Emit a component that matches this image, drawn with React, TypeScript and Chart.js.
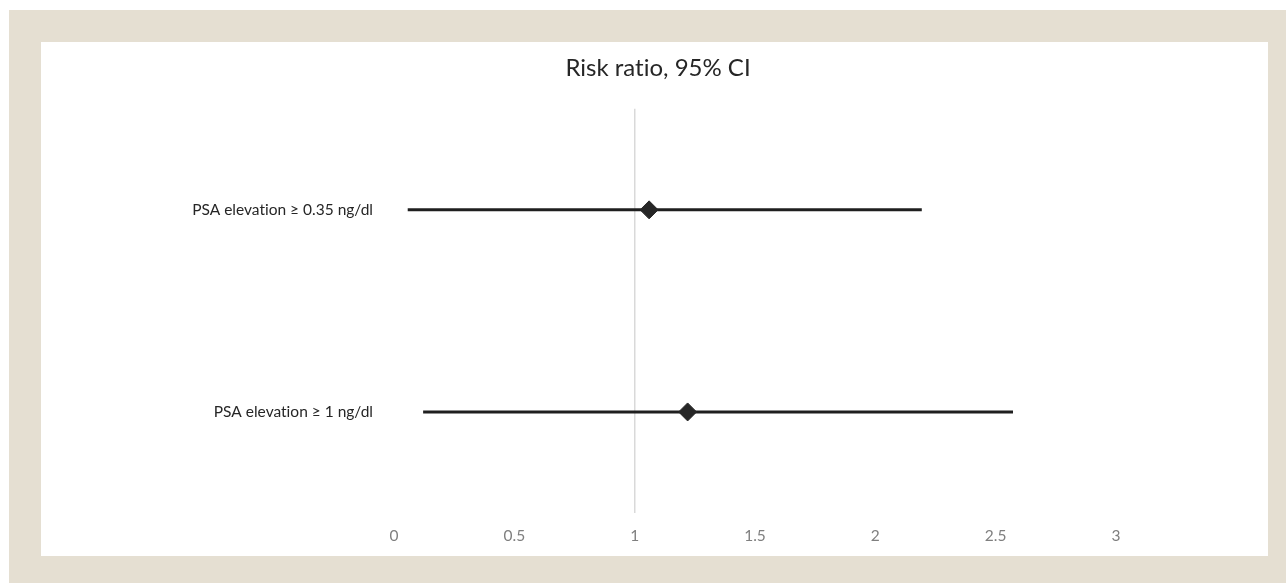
import React, { useEffect, useRef } from 'react';
import { Chart, registerables } from 'chart.js';

Chart.register(...registerables);

const categories = ['PSA elevation ≥ 0.35 ng/dl', 'PSA elevation ≥ 1 ng/dl'];
const riskRatio = [1.06, 1.22];
const ciLower = [0.057, 0.121];
const ciUpper = [2.193, 2.572];
const xMin = 0;
const xTickMax = 3;
const xAxisMax = 3.59;
const xStep = 0.5;
const referenceValue = 1;
const title = 'Risk ratio, 95% CI';

const FONT = 'Lato, "Open Sans", "DejaVu Sans", sans-serif';

const noLigatures = {
  id: 'noLigatures',
  beforeLayout(chart: any) {
    try { chart.ctx.textRendering = 'optimizeSpeed'; } catch (e) { /* ignore */ }
  },
  beforeDraw(chart: any) {
    try { chart.ctx.textRendering = 'optimizeSpeed'; } catch (e) { /* ignore */ }
  },
};

export default function App() {
  const ref = useRef<HTMLCanvasElement | null>(null);

  useEffect(() => {
    document.body.style.margin = '0';
    const canvas = ref.current;
    if (!canvas) return;

    const diamonds = {
      type: 'scatter' as const,
      label: 'Risk ratio',
      data: categories.map((c, i) => ({ x: riskRatio[i], y: c })),
      pointStyle: 'rectRot',
      pointRadius: 9,
      pointHoverRadius: 9,
      backgroundColor: '#262626',
      borderColor: '#262626',
      borderWidth: 1,
      showLine: false,
    };

    const ciLines = categories.map((c, i) => ({
      type: 'scatter' as const,
      label: 'CI ' + c,
      data: [
        { x: ciLower[i], y: c },
        { x: ciUpper[i], y: c },
      ],
      showLine: true,
      borderColor: '#1f1f1f',
      borderWidth: 3,
      pointRadius: 0,
      pointHoverRadius: 0,
      fill: false,
    }));

    const chart = new Chart(canvas, {
      type: 'scatter',
      data: { datasets: [diamonds as any, ...(ciLines as any[])] },
      plugins: [noLigatures],
      options: {
        animation: false,
        responsive: false,
        layout: { padding: { left: 7, right: 0, top: 0, bottom: 0 } },
        plugins: {
          legend: { display: false },
          tooltip: { enabled: false },
          title: {
            display: true,
            text: title,
            color: '#262626',
            font: { family: FONT, size: 24, weight: 'normal' },
            padding: { top: 12, bottom: 26 },
          },
        },
        scales: {
          x: {
            type: 'linear',
            min: xMin,
            max: xAxisMax,
            border: { display: false },
            grid: {
              drawTicks: false,
              lineWidth: 1.5,
              color: (ctx: any) =>
                ctx.tick && ctx.tick.value === referenceValue ? '#d9d9d9' : 'rgba(0,0,0,0)',
            },
            ticks: {
              stepSize: xStep,
              color: '#7f7f7f',
              padding: 14,
              font: { family: FONT, size: 15.5 },
              callback: (v: any) => String(v),
            },
            afterBuildTicks: (scale: any) => {
              scale.ticks = scale.ticks.filter((t: any) => t.value <= xTickMax + 1e-9);
            },
            afterFit: (scale: any) => {
              scale.height = 43;
            },
          },
          y: {
            type: 'category',
            labels: categories,
            offset: true,
            border: { display: false },
            grid: { display: false, drawTicks: false },
            ticks: {
              color: '#262626',
              padding: 21,
              font: { family: FONT, size: 15.5 },
            },
            afterFit: (scale: any) => {
              scale.width = 346;
            },
          },
        },
      } as any,
    });

    return () => {
      chart.destroy();
    };
  }, []);

  return (
    <div
      style={{
        position: 'absolute',
        left: 9,
        top: 10,
        width: 1277,
        height: 573,
        background: '#E5DFD2',
      }}
    >
      <div
        style={{
          position: 'absolute',
          left: 32,
          top: 32,
          width: 1227,
          height: 514,
          background: '#ffffff',
        }}
      >
        <canvas ref={ref} width={1227} height={514} style={{ display: 'block' }} />
      </div>
    </div>
  );
}
